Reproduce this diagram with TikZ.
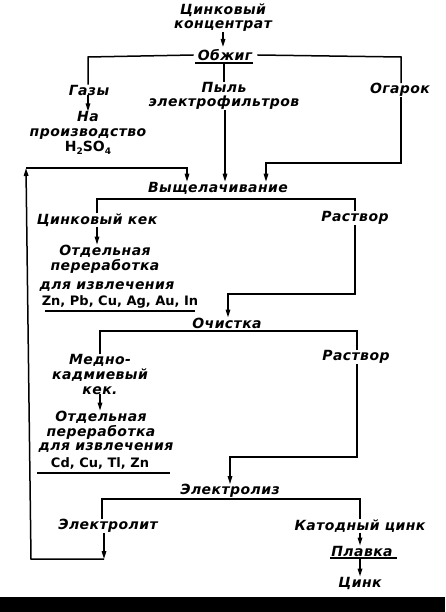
\documentclass[tikz,border=0pt]{standalone}
\usepackage{fontspec}
\newfontfamily\dfont{DejaVu Sans}[LetterSpace=3]
\newfontfamily\ufont{DejaVu Sans}
\usetikzlibrary{arrows.meta}
\tikzset{
  lbl/.style={font=\dfont\bfseries\itshape\fontsize{14}{16}\selectfont, inner sep=0pt, align=center},
  upr/.style={font=\ufont\bfseries\fontsize{13}{16}\selectfont, inner sep=0pt},
  ln/.style={line width=1.5pt},
  arr/.style={line width=1.5pt, -{Triangle[length=8pt,width=4.5pt]}},
}
\newcommand{\sbs}[1]{\raisebox{-2.5pt}{\fontsize{9}{9}\selectfont #1}}
\begin{document}
\begin{tikzpicture}[x=1pt,y=-1pt]
\useasboundingbox (0,0) rectangle (445,612);
\fill[white] (0,0) rectangle (445,612);
% texts
\node[lbl] (conc) at (223,18) {Цинковый\\[-2pt]концентрат};
\node[lbl] (obzh) at (225,55) {Обжиг};
\node[lbl] (gazy) at (89,90) {Газы};
\node[lbl] (prod) at (88,133) {На\\[-1pt]производство\\[-1pt]{\ufont\upshape H\sbs{2}SO\sbs{4}}};
\node[lbl] (pyl) at (224,96) {Пыль\\[-2pt]электрофильтров};
\node[lbl] (ogar) at (400,90) {Огарок};
\node[lbl] (vysh) at (218,188) {Выщелачивание};
\node[lbl] (kek1) at (97,220) {Цинковый кек};
\node[lbl] (otd1) at (105,259) {Отдельная\\[-1pt]переработка};
\node[lbl] (izv1) at (107,287) {для извлечения};
\node[upr] (met1) at (120,302) {Zn, Pb, Cu, Ag, Au, In};
\node[lbl] (rast1) at (355,218) {Раствор};
\node[lbl] (och) at (227,323) {Очистка};
\node[lbl] (kek2) at (100,374) {Медно-\\[-1pt]кадмиевый\\[-1pt]кек.};
\node[lbl] (otd2) at (101,425) {Отдельная\\[-1pt]переработка};
\node[lbl] (izv2) at (106,448) {для извлечения};
\node[upr] (met2) at (100,463) {Cd, Cu, Tl, Zn};
\node[lbl] (rast2) at (356,357) {Раствор};
\node[lbl] (elz) at (230,491) {Электролиз};
\node[lbl] (elt) at (108,526) {Электролит};
\node[lbl] (kat) at (360,526) {Катодный цинк};
\node[lbl] (plav) at (362,551) {Плавка};
\node[lbl] (cink) at (360,583) {Цинк};
% underlines
\draw[ln] (195,63) -- (253,63);
\draw[ln] (45,311) -- (195,311);
\draw[ln] (37,473) -- (170,473);
\draw[ln] (330,558) -- (397,558);
% connectors
\draw[arr] (conc.south -| 223,0) -- (223,47);
\draw[ln] ([xshift=-4pt]obzh.west) -- (88,57) -- (gazy.north -| 88,0);
\draw[ln] ([xshift=5pt]obzh.east) -- (401,57) -- (ogar.north -| 401,0);
\draw[ln] (224,63) -- (pyl.north -| 224,0);
\draw[arr] (gazy.south -| 88,0) -- (prod.north -| 88,0);
\draw[arr] (pyl.south -| 225,0) -- (vysh.north -| 225,0);
\draw[arr] (ogar.south -| 401,0) -- (401,163) -- (266,163) -- (vysh.north -| 266,0);
\coordinate (fb1) at (104,559);
\coordinate (fb2) at (31,559);
\coordinate (fb3) at (26,168);
\draw[arr] (elt.south -| 104,0) -- (fb1);
\draw[arr] (fb1) -- (fb2) -- (fb3);
\draw[arr] (fb3) -- (187,168) -- (vysh.north -| 187,0);
\draw[ln] (kek1.north -| 97,0) -- (97,199) -- (355,199) -- (rast1.north -| 355,0);
\draw[arr] (kek1.south -| 97,0) -- (otd1.north -| 97,0);
\draw[arr] (rast1.south -| 355,0) -- (355,294) -- (228,294) -- (och.north -| 228,0);
\draw[ln] (kek2.north -| 100,0) -- (100,331) -- (357,331) -- (rast2.north -| 357,0);
\draw[arr] (kek2.south -| 100,0) -- (otd2.north -| 100,0);
\draw[arr] (rast2.south -| 357,0) -- (357,457) -- (230,457) -- (elz.north -| 230,0);
\draw[ln] (elt.north -| 102,0) -- (102,499) -- (360,499) -- (kat.north -| 360,0);
\draw[arr] (kat.south -| 360,0) -- (plav.north -| 360,0);
\draw[arr] (360,558) -- (cink.north -| 360,0);
% scan edge
\fill[black] (0,597) rectangle (445,612);
\end{tikzpicture}
\end{document}
